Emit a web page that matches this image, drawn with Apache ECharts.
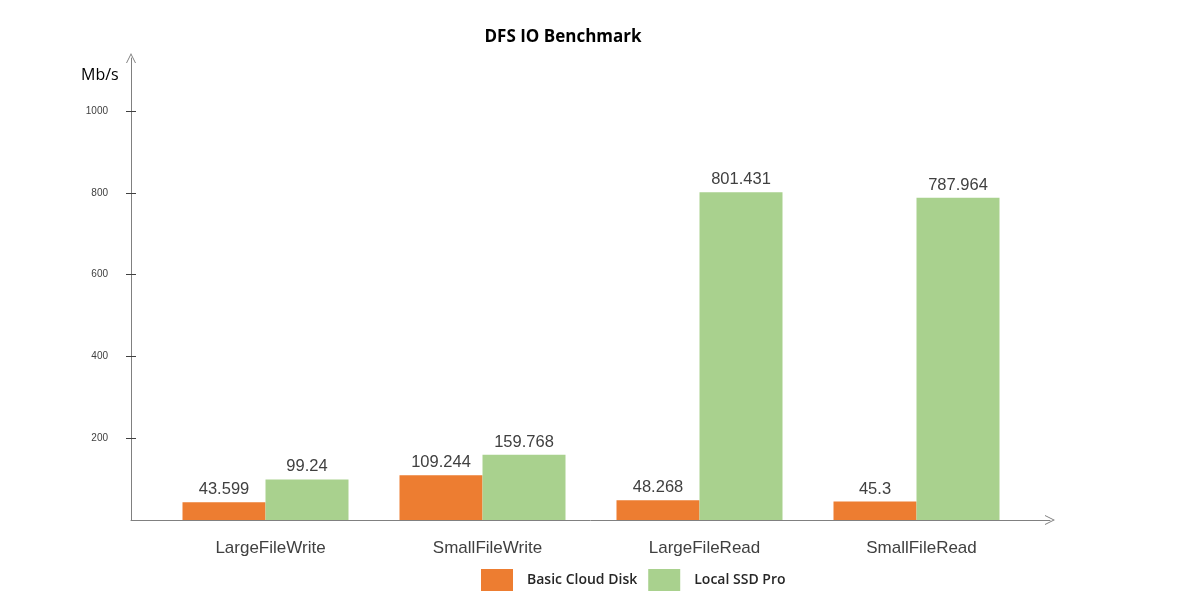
<!DOCTYPE html>
<html>
<head>
<meta charset="utf-8">
<script src="https://cdn.jsdelivr.net/npm/echarts@6/dist/echarts.min.js"></script>
<style>
  html, body { margin: 0; padding: 0; background: #fff; }
  #chart { width: 1193px; height: 609px; }
</style>
</head>
<body>
<div id="chart"></div>
<script>
// DFS IO 基准测试
var categories = ["LargeFileWrite", "SmallFileWrite", "LargeFileRead", "SmallFileRead"];
var basicCloudDisk = [43.599, 109.244, 48.268, 45.3];
var localSsdPro = [99.24, 159.768, 801.431, 787.964];
var yTicks = [200, 400, 600, 800, 1000];

var chart = echarts.init(document.getElementById("chart"));

var arrowPath = "path://M0,10 L5,0 L10,10 L9,10 L5,2 L1,10 Z";
var axisColor = "#808080";
var yMax = 1130;

var option = {
  backgroundColor: "#fff",
  animation: false,
  title: [{
    text: "DFS IO Benchmark",
    left: 558,
    top: 24,
    textAlign: "center",
    textStyle: { fontFamily: "Open Sans", fontSize: 17, fontWeight: "bold", color: "#000" }
  }, {
    text: "Mb/s",
    left: 76,
    top: 62,
    textStyle: { fontFamily: "Open Sans", fontSize: 16, fontWeight: "normal", color: "#000" }
  }],
  legend: {
    left: 476,
    top: 564,
    itemWidth: 32,
    itemHeight: 22,
    itemGap: 11,
    icon: "rect",
    data: ["Basic Cloud Disk", "Local SSD Pro"],
    textStyle: { fontFamily: "Open Sans", fontSize: 14, fontWeight: 600, color: "#262626", padding: [0, 0, 0, 9] }
  },
  grid: [
    { left: 131, right: 143, top: 58, bottom: 89 },
    { left: 157, right: 168, top: 58, bottom: 89 }
  ],
  xAxis: [{
    gridIndex: 0,
    type: "value",
    min: 0,
    max: 1,
    axisLine: { show: true, symbol: ["none", arrowPath], symbolSize: [10, 10], lineStyle: { color: axisColor, width: 1 } },
    axisTick: { show: false },
    axisLabel: { show: false },
    splitLine: { show: false }
  }, {
    gridIndex: 1,
    type: "category",
    data: categories,
    axisLine: { show: false },
    axisTick: { show: false },
    axisLabel: { margin: 20, padding: [0, 0, 0, 10], fontFamily: "Liberation Sans", fontSize: 17, color: "#404040" }
  }],
  yAxis: [{
    gridIndex: 0,
    type: "value",
    min: 0,
    max: yMax,
    axisLine: { show: true, symbol: ["none", arrowPath], symbolSize: [10, 10], lineStyle: { color: axisColor, width: 1 } },
    axisTick: { show: true, length: 5, customValues: yTicks, lineStyle: { color: "#404040" } },
    axisLabel: { customValues: yTicks, margin: 23, fontFamily: "Liberation Sans", fontSize: 10, color: "#404040",
      formatter: function (v) { return String(v); } },
    splitLine: { show: false }
  }, {
    gridIndex: 1,
    type: "value",
    min: 0,
    max: yMax,
    show: false,
    splitLine: { show: false }
  }, {
    // 刻度穿过坐标轴的内侧部分
    gridIndex: 0,
    type: "value",
    min: 0,
    max: yMax,
    position: "left",
    axisLine: { show: false },
    axisTick: { show: true, inside: true, length: 5, customValues: yTicks, lineStyle: { color: "#404040" } },
    axisLabel: { show: false },
    splitLine: { show: false }
  }],
  series: [{
    name: "Basic Cloud Disk",
    type: "bar",
    xAxisIndex: 1,
    yAxisIndex: 1,
    data: basicCloudDisk,
    barGap: "0%",
    barCategoryGap: "23.5%",
    itemStyle: { color: "#ED7D31" },
    label: { show: true, position: "top", distance: 4, fontFamily: "Liberation Sans", fontSize: 16.5, color: "#404040" }
  }, {
    name: "Local SSD Pro",
    type: "bar",
    xAxisIndex: 1,
    yAxisIndex: 1,
    data: localSsdPro,
    barGap: "0%",
    barCategoryGap: "23.5%",
    itemStyle: { color: "#A9D18E" },
    label: { show: true, position: "top", distance: 4, fontFamily: "Liberation Sans", fontSize: 16.5, color: "#404040" }
  }]
};

chart.setOption(option);
</script>
</body>
</html>
